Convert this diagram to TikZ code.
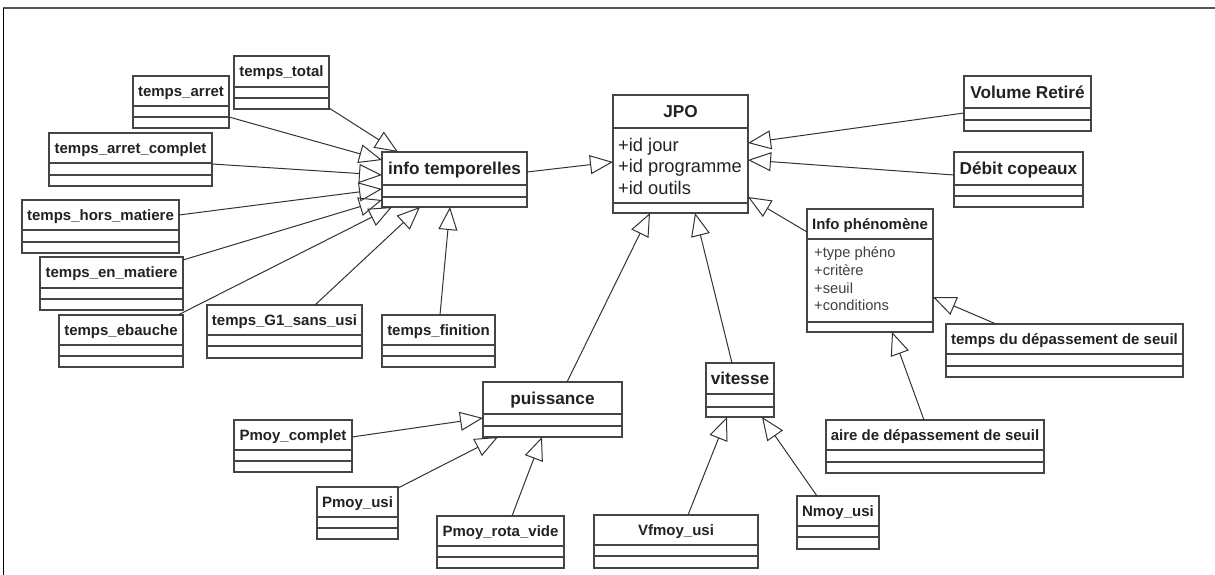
\documentclass[tikz,border=0pt]{standalone}
\usepackage{fontspec}
\setmainfont{Liberation Sans}
\usetikzlibrary{arrows.meta,calc}
\pgfdeclarelayer{bg}
\pgfsetlayers{bg,main}
\definecolor{bordc}{HTML}{454545}
\definecolor{shadc}{HTML}{F0F0F0}
\definecolor{txtc}{HTML}{222222}
\definecolor{linec}{HTML}{333333}
\definecolor{framec}{HTML}{555555}
\tikzset{
  cls/.style={draw=bordc, line width=1.3pt, fill=white, rectangle, inner sep=0pt, outer sep=0pt, anchor=north west},
  hs/.style={font=\fontsize{15}{18}\selectfont\bfseries, text=txtc, inner sep=0pt, text height=10.8pt, text depth=0pt},
  hb/.style={font=\fontsize{17.2}{20}\selectfont\bfseries, text=txtc, inner sep=0pt, text height=12.3pt, text depth=0pt},
  attrbig/.style={font=\fontsize{18.3}{22}\selectfont, text=txtc, inner sep=0pt, anchor=base west},
  attrsmall/.style={font=\fontsize{14.7}{18}\selectfont, text=black!75, inner sep=0pt, anchor=base west},
  gen/.style={draw=linec, line width=1pt, -{Triangle[open,length=23pt,width=19pt]}},
}
\newcommand\umlbox[9]{%
  \begin{pgfonlayer}{bg}\fill[shadc] (#2+7,#3+7) rectangle (#4+7,#5+7);\end{pgfonlayer}
  \node[cls, minimum width={#4-#2}, minimum height={#5-#3}] (#1) at (#2,#3) {};
  \draw[bordc, line width=1.3pt] (#2,#6) -- (#4,#6) (#2,#7) -- (#4,#7);
  \node[#8] (#1t) at ({(#2+#4)/2},{(#3+#6)/2}) {#9};
}
\begin{document}
\begin{tikzpicture}[x=1pt,y=-1pt]
\useasboundingbox (0,0) rectangle (1215,575);
\fill[white] (0,0) rectangle (1215,575);
\draw[framec, line width=2pt] (3,8.3) -- (1215,8.3);
\draw[black, line width=0.8pt] (3,8) -- (3,575);

\umlbox{tt}{234}{56}{329}{109}{87}{98}{hs}{temps\_total}
\umlbox{ta}{133}{76}{229}{128}{106}{117}{hs}{temps\_arret}
\umlbox{tac}{49}{133}{212}{186}{163}{175}{hs}{temps\_arret\_complet}
\umlbox{thm}{22}{200}{179}{253}{230}{242}{hs}{temps\_hors\_matiere}
\umlbox{tem}{40}{257}{183}{310}{288}{299}{hs}{temps\_en\_matiere}
\umlbox{teb}{59}{315}{183}{367}{345}{356}{hs}{temps\_ebauche}
\umlbox{tg}{207}{305}{362}{358}{335}{346}{hs}{temps\_G1\_sans\_usi}
\umlbox{tfi}{382}{315}{495}{367}{345}{356}{hs}{temps\_finition}
\umlbox{it}{382}{152}{527}{207}{185}{197}{hb}{info temporelles}
\umlbox{jpo}{613}{95}{748}{213}{128}{203}{hb}{JPO}
\umlbox{vr}{964}{76}{1091}{131}{108}{120}{hb}{Volume Retiré}
\umlbox{dc}{954}{152}{1083}{207}{185}{196}{hb}{Débit copeaux}
\umlbox{ip}{807}{209}{933}{332}{239}{322}{hs}{Info phénomène}
\umlbox{tds}{946}{324}{1183}{377}{354}{366}{hs}{temps du dépassement de seuil}
\umlbox{ads}{826}{420}{1044}{473}{450}{462}{hs}{aire de dépassement de seuil}
\umlbox{pu}{483}{382}{622}{437}{414}{426}{hb}{puissance}
\umlbox{vi}{706}{363}{774}{417}{394}{407}{hb}{vitesse}
\umlbox{pc}{234}{420}{352}{472}{450}{461}{hs}{Pmoy\_complet}
\umlbox{pus}{317}{487}{398}{539}{517}{528}{hs}{Pmoy\_usi}
\umlbox{prv}{437}{516}{564}{568}{546}{557}{hs}{Pmoy\_rota\_vide}
\umlbox{vf}{594}{515}{758}{568}{545}{556}{hs}{Vfmoy\_usi}
\umlbox{nm}{797}{496}{879}{549}{526}{537}{hs}{Nmoy\_usi}

% attributes
\node[attrbig] (ja1) at (618,151) {+id jour};
\node[attrbig] (ja2) at (618,172.5) {+id programme};
\node[attrbig] (ja3) at (618,194) {+id outils};
\node[attrsmall] (ia1) at (814,257.5) {+type phéno};
\node[attrsmall] (ia2) at (814,275.3) {+critère};
\node[attrsmall] (ia3) at (814,293.1) {+seuil};
\node[attrsmall] (ia4) at (814,310.9) {+conditions};

% generalisations to info temporelles
\draw[gen] ($(tt.south east)+(0,-1)$) -- ($(it.north west)+(16,0)$);
\draw[gen] ($(ta.north east)+(0,41)$) -- ($(it.north west)+(0,8)$);
\draw[gen] ($(tac.north east)+(0,31)$) -- ($(it.north west)+(0,23)$);
\draw[gen] ($(thm.north east)+(0,15)$) -- ($(it.north west)+(0,37)$);
\draw[gen] ($(tem.north east)+(0,3)$) -- ($(it.north west)+(0,48)$);
\draw[gen] ($(teb.north east)+(-5,0)$) -- ($(it.south west)+(10,0)$);
\draw[gen] ($(tg.north west)+(108,0)$) -- ($(it.south west)+(38,0)$);
\draw[gen] ($(tfi.north west)+(58,0)$) -- ($(it.south west)+(68,0)$);
% to JPO
\draw[gen] ($(it.north east)+(0,20)$) -- ($(jpo.north west)+(0,67)$);
\draw[gen] ($(vr.north west)+(0,37)$) -- ($(jpo.north east)+(0,48)$);
\draw[gen] ($(dc.north west)+(0,23)$) -- ($(jpo.north east)+(0,65)$);
\draw[gen] ($(ip.north west)+(0,23)$) -- ($(jpo.north east)+(0,102)$);
\draw[gen] ($(pu.north west)+(84,0)$) -- ($(jpo.south west)+(37,0)$);
\draw[gen] ($(vi.north west)+(26,0)$) -- ($(jpo.south west)+(82,0)$);
% to Info phenomene
\draw[gen] ($(tds.north west)+(50,0)$) -- ($(ip.north east)+(0,88)$);
\draw[gen] ($(ads.north west)+(98,0)$) -- ($(ip.south west)+(85,0)$);
% to puissance
\draw[gen] ($(pc.north east)+(0,17)$) -- ($(pu.north west)+(0,36)$);
\draw[gen] ($(pus.north east)+(0,1)$) -- ($(pu.south west)+(15,0)$);
\draw[gen] ($(prv.north west)+(75,0)$) -- ($(pu.south west)+(59,0)$);
% to vitesse
\draw[gen] ($(vf.north west)+(94,0)$) -- ($(vi.south west)+(21,0)$);
\draw[gen] ($(nm.north west)+(20,0)$) -- ($(vi.south west)+(56,0)$);
\end{tikzpicture}
\end{document}
